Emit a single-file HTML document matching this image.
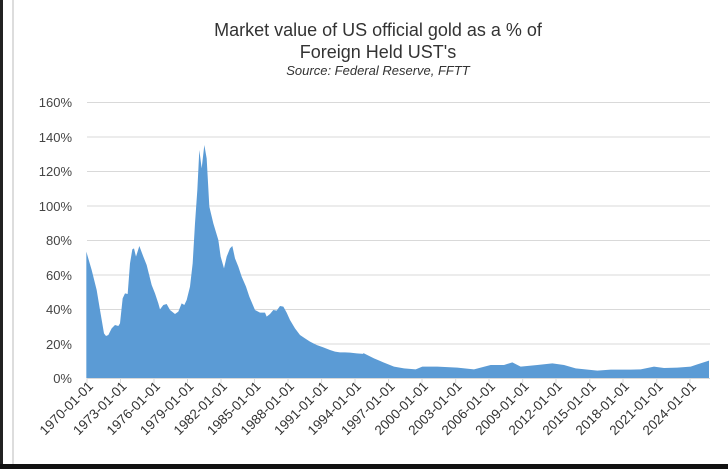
<!DOCTYPE html>
<html><head><style>
body{margin:0;background:#fff;}
svg{display:block;font-family:"Liberation Sans",Arial,sans-serif;}
</style></head><body>
<svg width="728" height="469" viewBox="0 0 728 469">
<rect x="0" y="0" width="728" height="469" fill="#fff"/>
<rect x="0" y="0" width="3" height="469" fill="#222"/>
<line x1="13" y1="0" x2="13" y2="464" stroke="#bbb"/>
<rect x="0" y="464" width="728" height="5" fill="#111"/>
<text x="378" y="36" font-size="18" text-anchor="middle" fill="#333">Market value of US official gold as a % of</text>
<text x="378" y="58" font-size="18" text-anchor="middle" fill="#333">Foreign Held UST's</text>
<text x="378" y="75" font-size="13" font-style="italic" text-anchor="middle" fill="#333">Source:  Federal Reserve, FFTT</text>
<g stroke="#d9d9d9" stroke-width="1">
<line x1="87" x2="710" y1="102.5" y2="102.5"/><line x1="87" x2="710" y1="137" y2="137"/>
<line x1="87" x2="710" y1="171.5" y2="171.5"/><line x1="87" x2="710" y1="206" y2="206"/>
<line x1="87" x2="710" y1="240.5" y2="240.5"/><line x1="87" x2="710" y1="275" y2="275"/>
<line x1="87" x2="710" y1="309.5" y2="309.5"/><line x1="87" x2="710" y1="344" y2="344"/>
</g>
<g font-size="13" fill="#444" text-anchor="end">
<text x="72" y="107">160%</text><text x="72" y="142">140%</text><text x="72" y="176">120%</text>
<text x="72" y="211">100%</text><text x="72" y="245">80%</text><text x="72" y="280">60%</text>
<text x="72" y="314">40%</text><text x="72" y="349">20%</text><text x="72" y="383">0%</text>
</g>
<g fill="#5b9bd5">
<path transform="translate(0,90) scale(0.33333)" d="M259,864 L259,485 L275,540 L290,600 L300,660 L312,730 L318,738 L325,735 L335,715 L345,705 L355,708 L360,700 L368,625 L375,610 L383,612 L390,520 L397,478 L402,475 L408,500 L418,468 L430,500 L440,525 L455,585 L465,610 L475,640 L480,658 L490,645 L500,642 L510,660 L525,672 L535,665 L545,640 L553,645 L560,630 L570,590 L578,520 L585,400 L592,300 L598,180 L605,235 L613,165 L620,205 L628,350 L640,400 L655,450 L662,500 L672,535 L680,500 L690,475 L697,468 L705,505 L715,530 L725,560 L738,590 L748,620 L765,660 L780,668 L795,668 L800,680 L810,672 L820,660 L830,662 L840,648 L850,650 L860,668 L870,690 L885,715 L900,735 L915,745 L930,755 L950,765 L970,772 L990,780 L1005,785 L1020,787 L1035,787 L1050,788 L1070,790 L1095,792 L1095,864 Z"/>
<path transform="translate(364,300) scale(0.33333)" d="M-3,234 L-3,160 L0,160 L30,175 L60,188 L90,200 L120,205 L155,208 L175,200 L220,200 L280,203 L330,208 L380,195 L420,195 L445,187 L470,200 L520,195 L565,190 L600,195 L635,205 L700,212 L740,209 L800,209 L830,208 L870,200 L900,204 L940,203 L980,200 L1000,193 L1035,182 L1035,234 Z"/>
</g>
<line x1="87" x2="710" y1="378.5" y2="378.5" stroke="#d9d9d9"/>
<g stroke="#d9d9d9">
<line x1="87" x2="87" y1="378" y2="383"/><line x1="120.5" x2="120.5" y1="378" y2="383"/><line x1="154" x2="154" y1="378" y2="383"/><line x1="187.5" x2="187.5" y1="378" y2="383"/><line x1="221" x2="221" y1="378" y2="383"/><line x1="254.5" x2="254.5" y1="378" y2="383"/><line x1="288" x2="288" y1="378" y2="383"/><line x1="321.6" x2="321.6" y1="378" y2="383"/><line x1="355" x2="355" y1="378" y2="383"/><line x1="388.6" x2="388.6" y1="378" y2="383"/><line x1="422" x2="422" y1="378" y2="383"/><line x1="455.7" x2="455.7" y1="378" y2="383"/><line x1="489" x2="489" y1="378" y2="383"/><line x1="522.7" x2="522.7" y1="378" y2="383"/><line x1="556" x2="556" y1="378" y2="383"/><line x1="589.8" x2="589.8" y1="378" y2="383"/><line x1="623" x2="623" y1="378" y2="383"/><line x1="656.8" x2="656.8" y1="378" y2="383"/><line x1="690" x2="690" y1="378" y2="383"/>
</g>
<g font-size="13.5" fill="#333" text-anchor="end">
<text transform="translate(94,387) rotate(-45)">1970-01-01</text>
<text transform="translate(127.5,387) rotate(-45)">1973-01-01</text>
<text transform="translate(161,387) rotate(-45)">1976-01-01</text>
<text transform="translate(194.5,387) rotate(-45)">1979-01-01</text>
<text transform="translate(228,387) rotate(-45)">1982-01-01</text>
<text transform="translate(261.5,387) rotate(-45)">1985-01-01</text>
<text transform="translate(295,387) rotate(-45)">1988-01-01</text>
<text transform="translate(328.6,387) rotate(-45)">1991-01-01</text>
<text transform="translate(362,387) rotate(-45)">1994-01-01</text>
<text transform="translate(395.6,387) rotate(-45)">1997-01-01</text>
<text transform="translate(429,387) rotate(-45)">2000-01-01</text>
<text transform="translate(462.7,387) rotate(-45)">2003-01-01</text>
<text transform="translate(496,387) rotate(-45)">2006-01-01</text>
<text transform="translate(529.7,387) rotate(-45)">2009-01-01</text>
<text transform="translate(563,387) rotate(-45)">2012-01-01</text>
<text transform="translate(596.8,387) rotate(-45)">2015-01-01</text>
<text transform="translate(630,387) rotate(-45)">2018-01-01</text>
<text transform="translate(663.8,387) rotate(-45)">2021-01-01</text>
<text transform="translate(697,387) rotate(-45)">2024-01-01</text>
</g>
</svg>
</body></html>
